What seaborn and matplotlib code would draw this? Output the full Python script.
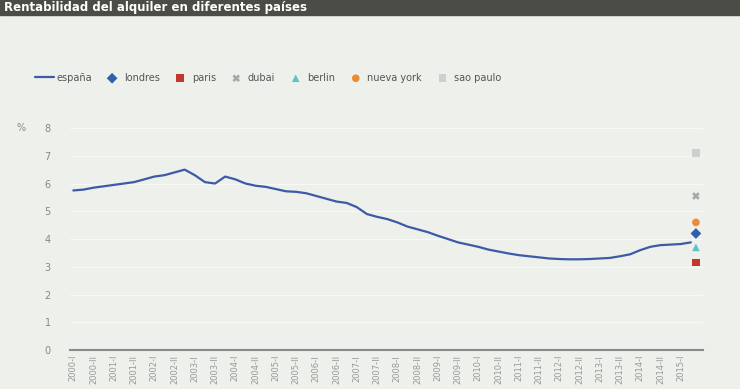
import numpy as np
import pandas as pd
import seaborn as sns
import matplotlib.pyplot as plt
from matplotlib.patches import Rectangle

# datos
espana = [5.75, 5.78, 5.85, 5.90, 5.95, 6.00, 6.05, 6.15, 6.25, 6.30, 6.40, 6.50,
          6.30, 6.05, 6.00, 6.25, 6.15, 6.00, 5.92, 5.88, 5.80, 5.72, 5.70, 5.65,
          5.55, 5.45, 5.35, 5.30, 5.15, 4.90, 4.80, 4.72, 4.60, 4.45, 4.35, 4.25,
          4.12, 4.00, 3.88, 3.80, 3.72, 3.62, 3.55, 3.48, 3.42, 3.38, 3.34, 3.30,
          3.28, 3.27, 3.27, 3.28, 3.30, 3.32, 3.38, 3.45, 3.60, 3.72, 3.78, 3.80,
          3.82, 3.88]
ciudades = ['londres', 'paris', 'dubai', 'berlin', 'nueva york', 'sao paulo']
valores_ciudad = [4.2, 3.15, 5.55, 3.7, 4.6, 7.1]
colores_ciudad = ['#2f5fae', '#c0392f', '#a7a7a7', '#5cc3cc', '#ee8a32', '#cfcfcf']
marcas_ciudad = ['D', 's', 'X', '^', 'o', 's']
etiquetas_x = [f'{a}-{s}' for a in range(2000, 2016) for s in ('I', 'II')][:31]

fondo = '#eef0eb'
sns.set_style('white')
plt.rcParams['font.family'] = ['DejaVu Sans']
plt.rcParams['font.size'] = 8

fig = plt.figure(figsize=(7.4, 3.89), dpi=100, facecolor=fondo)
ax = fig.add_axes([0.095, 0.10, 0.855, 0.571])
ax.set_facecolor(fondo)

df = pd.DataFrame({'x': np.arange(len(espana)), 'y': espana})
sns.lineplot(data=df, x='x', y='y', ax=ax, color='#3d5aa6', lw=1.6, label='españa')

xc = len(espana) - 0.5
for c, v, col, m in zip(ciudades, valores_ciudad, colores_ciudad, marcas_ciudad):
    sns.scatterplot(x=[xc], y=[v], ax=ax, color=col, marker=m, s=30,
                    edgecolor='none', label=c)

ax.set_xlim(-0.3, len(espana) + 0.2)
ax.set_ylim(0, 8)
ax.set_yticks(range(0, 9))
ax.tick_params(axis='y', length=0, labelsize=7, colors='#888888', pad=14)
ax.set_xticks(np.arange(0, len(espana), 2))
ax.set_xticklabels(etiquetas_x, rotation=90, fontsize=6, color='#999999')
ax.set_xticks(np.arange(0, len(espana)), minor=True)
ax.tick_params(axis='x', which='both', direction='in', length=3, color='#bbbbbb')
ax.grid(axis='y', color='#f8f9f6', lw=0.8)
ax.set_xlabel('')
ax.set_ylabel('')
for s in ['top', 'right', 'left']:
    ax.spines[s].set_visible(False)
ax.spines['bottom'].set_color('#8a8a8a')
ax.spines['bottom'].set_linewidth(1.5)
ax.text(-0.085, 1.0, '%', transform=ax.transAxes, fontsize=7, color='#888888',
        va='center')

h, l = ax.get_legend_handles_labels()
ax.get_legend().remove()
fig.legend(h, l, ncol=7, loc='center left', bbox_to_anchor=(0.035, 0.80),
           frameon=False, fontsize=7, handlelength=2.0, columnspacing=1.1,
           labelcolor='#555555', handletextpad=0.2)

# barra de titulo
fig.patches.append(Rectangle((0, 0.962), 1, 0.04, transform=fig.transFigure,
                             color='#4b4c45', zorder=0))
fig.text(0.005, 0.981, 'Rentabilidad del alquiler en diferentes países',
         color='white', fontsize=8.5, fontweight='bold', va='center')

fig.savefig('out.png', dpi=100, facecolor=fondo)
